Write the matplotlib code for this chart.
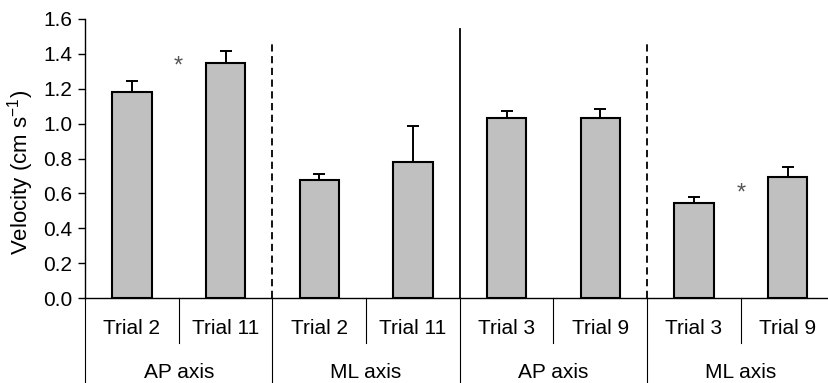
import numpy as np
import matplotlib.pyplot as plt
import matplotlib.transforms as mtransforms

plt.rcParams['font.family'] = ['Liberation Sans', 'DejaVu Sans']
plt.rcParams['mathtext.fontset'] = 'custom'
plt.rcParams['mathtext.rm'] = 'Liberation Sans'
plt.rcParams['mathtext.default'] = 'regular'

# Bar data
trials = ['Trial 2', 'Trial 11', 'Trial 2', 'Trial 11', 'Trial 3', 'Trial 9', 'Trial 3', 'Trial 9']
groups = ['AP axis', 'ML axis', 'AP axis', 'ML axis']
velocity = [1.18, 1.347, 0.677, 0.78, 1.03, 1.03, 0.547, 0.694]
sd_up = [0.064, 0.069, 0.034, 0.206, 0.042, 0.054, 0.034, 0.057]

# significance markers: (x between bars, y)
stars_x = [0.5, 6.5]
stars_y = [1.33, 0.60]

fs = 15
W, H = 829, 383
fig = plt.figure(figsize=(W / 100, H / 100), dpi=100)
left, bottom = 85, 298
cat_w = 93.7
ax = fig.add_axes([left / W, (H - bottom) / H, 8 * cat_w / W, (bottom - 19) / H])

x = np.arange(len(velocity))
ax.bar(x, velocity, width=0.42, color='#c0c0c0', edgecolor='black', linewidth=1.5, zorder=3)
ax.errorbar(x, velocity, yerr=[np.zeros(len(sd_up)), sd_up], fmt='none',
            ecolor='black', elinewidth=1.4, capsize=4, capthick=1.4, zorder=2)

for sx, sy in zip(stars_x, stars_y):
    ax.text(sx, sy, '*', ha='center', va='center', fontsize=17, color='#555555')

# dividers inside the plot
ax.plot([1.5, 1.5], [0, 1.46], color='black', lw=1.3, dashes=(4, 2.5))
ax.plot([3.5, 3.5], [0, 1.54], color='black', lw=1.3)
ax.plot([5.5, 5.5], [0, 1.46], color='black', lw=1.3, dashes=(4, 2.5))

ax.set_xlim(-0.5, 7.5)
ax.set_ylim(0, 1.6)
ticks = np.arange(0, 1.61, 0.2)
ax.set_yticks(ticks)
ax.set_yticklabels([f'{v:.1f}' for v in ticks], fontsize=fs)
ax.set_xticks([])
ax.tick_params(axis='y', direction='out', length=5, width=1, pad=4)
ax.spines['top'].set_visible(False)
ax.spines['right'].set_visible(False)
ax.spines['left'].set_linewidth(1)
ax.spines['bottom'].set_linewidth(1)
ax.set_ylabel('Velocity (cm s$^{-1}$)', fontsize=16)
ax.yaxis.set_label_coords(-0.066, 0.45)

# two-level category axis underneath
trans = mtransforms.blended_transform_factory(ax.transData, ax.transAxes)
px = 1 / (bottom - 19)
for i, t in enumerate(trials):
    ax.text(i, -30 * px, t, transform=trans, ha='center', va='center', fontsize=fs)
for g, name in enumerate(groups):
    ax.text(2 * g + 0.5, -74 * px, name, transform=trans, ha='center', va='center', fontsize=fs)
for sx in [0.5, 2.5, 4.5, 6.5]:
    ax.plot([sx, sx], [0, -45 * px], transform=trans, color='black', lw=0.8, clip_on=False)
for sx in [-0.5, 1.5, 3.5, 5.5, 7.5]:
    ax.plot([sx, sx], [0, -100 * px], transform=trans, color='black', lw=0.8, clip_on=False)

fig.savefig('out.png', dpi=100)
